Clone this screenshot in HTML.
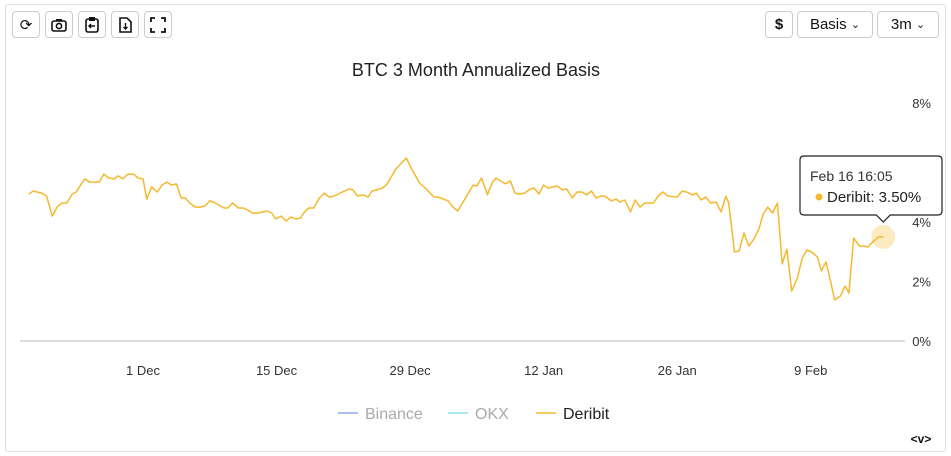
<!DOCTYPE html>
<html><head><meta charset="utf-8">
<style>
body{margin:0;width:951px;height:456px;background:#fff;font-family:"Liberation Sans",sans-serif;overflow:hidden}
.card{position:absolute;left:5px;top:4px;width:939px;height:446px;border:1px solid #ddd;border-radius:3px}
.btn{position:absolute;top:11px;height:27px;border:1px solid #ccc;border-radius:4px;background:#fff;box-sizing:border-box;display:flex;align-items:center;justify-content:center;font-size:15px;color:#111}
svg{position:absolute;left:0;top:0}
</style></head><body>
<div class="card"></div>
<div class="btn" style="left:12px;width:28px">⟳</div>
<div class="btn" style="left:45px;width:28px"><svg width="16" height="14" style="position:static"><rect x="1" y="3" width="14" height="10" rx="2" fill="none" stroke="#111" stroke-width="1.6"/><circle cx="8" cy="8" r="2.6" fill="none" stroke="#111" stroke-width="1.6"/><rect x="5" y="1" width="6" height="2" fill="#111"/></svg></div>
<div class="btn" style="left:78px;width:28px"><svg width="14" height="17" style="position:static"><rect x="1" y="3" width="12" height="13" rx="2" fill="none" stroke="#111" stroke-width="1.6"/><rect x="4" y="1" width="6" height="4" fill="#111"/><path d="M10 10H4M6 8L4 10L6 12" stroke="#111" fill="none" stroke-width="1.4"/></svg></div>
<div class="btn" style="left:111px;width:28px"><svg width="13" height="16" style="position:static"><path d="M1 1H8L12 5V15H1Z" fill="none" stroke="#111" stroke-width="1.6"/><path d="M6.5 6V12M4.5 10L6.5 12L8.5 10" stroke="#111" fill="none" stroke-width="1.4"/></svg></div>
<div class="btn" style="left:144px;width:28px"><svg width="16" height="16" style="position:static"><path d="M1 5V1H5M11 1H15V5M15 11V15H11M5 15H1V11" stroke="#111" fill="none" stroke-width="1.8"/></svg></div>
<div class="btn" style="left:765px;width:28px;font-weight:bold">$</div>
<div class="btn" style="left:797px;width:76px">Basis&nbsp;<span style="font-size:11px">⌄</span></div>
<div class="btn" style="left:877px;width:62px">3m&nbsp;<span style="font-size:11px">⌄</span></div>
<svg id="chart" width="951" height="456"></svg>
<script>
const days=[0,0.5,1.4,1.9,2.5,3,3.5,4,4.6,5,5.6,5.9,6.4,7.4,7.9,8.4,9,9.4,9.9,10.4,11,11.5,12,12.4,12.9,13.5,14,14.5,15,15.5,16,16.4,16.9,17.5,18,18.5,19,19.4,20.1,20.5,20.9,21.4,22,22.5,23,23.5,24,25,25.5,25.9,26.5,27,27.5,28,28.5,29,29.4,29.9,30.5,31,31.5,32,32.5,33.1,33.6,34,34.5,35.1,35.6,36,36.5,37.1,37.6,38.5,39.6,40.1,41,41.7,42.5,42.9,44,44.5,45,46,46.6,47,47.5,48.1,48.6,49,49.5,50,50.5,51,51.5,52,52.6,53,53.5,54,54.5,55,55.4,56,56.4,57,57.5,58,58.5,59,59.5,60,60.4,61.1,61.6,62,62.5,63.1,63.6,64.1,64.6,65.5,66,66.5,67,68,68.5,69,69.6,70,70.5,71,71.5,72.1,72.6,73.1,73.4,74,74.5,75,75.5,76.1,76.6,77,77.5,78,78.5,79,79.5,80,80.6,81.1,81.6,82.1,82.7,83.1,83.6,84.1,84.5,85.1,85.6,86,86.5,87.1,87.6,88,88.5,89.1,89.6];
const deribit=[4.94,5.04,4.97,4.87,4.20,4.50,4.64,4.64,4.94,5.01,5.31,5.45,5.34,5.34,5.61,5.48,5.45,5.55,5.45,5.61,5.61,5.48,5.45,4.77,5.18,5.01,5.24,5.34,5.24,5.28,4.81,4.81,4.64,4.50,4.50,4.54,4.71,4.67,4.54,4.47,4.47,4.64,4.47,4.47,4.40,4.30,4.30,4.37,4.30,4.10,4.20,4.03,4.17,4.10,4.13,4.37,4.47,4.47,4.81,4.97,4.84,4.87,4.94,5.04,5.11,5.08,4.87,4.91,4.84,5.04,5.08,5.14,5.28,5.78,6.15,5.82,5.31,5.11,4.84,4.84,4.71,4.50,4.37,4.91,5.24,5.21,5.48,4.91,5.31,5.48,5.38,5.28,5.38,4.97,4.94,4.97,5.11,5.14,4.94,5.24,5.14,5.18,5.21,5.08,5.11,4.81,5.01,5.01,4.91,5.04,4.81,4.87,4.87,4.71,4.77,4.67,4.74,4.34,4.74,4.50,4.64,4.64,4.87,5.01,4.87,4.84,5.04,5.01,4.91,4.97,4.74,4.84,4.64,4.67,4.34,4.87,4.64,2.99,3.03,3.63,3.19,3.46,3.80,4.27,4.50,4.30,4.64,2.59,3.09,1.68,2.12,2.79,3.06,2.99,2.82,2.35,2.66,1.98,1.38,1.51,1.85,1.61,3.46,3.19,3.19,3.16,3.33,3.50,3.50];
const xTickDays=[12,26,40,54,68,82];
const xTickLabels=["1 Dec","15 Dec","29 Dec","12 Jan","26 Jan","9 Feb"];
const yTicks=[0,2,4,8];
const legendNames=["Binance","OKX","Deribit"];
const legendColors=["#8fa8f0","#8ee0ea","#f5b82e"];

const NS="http://www.w3.org/2000/svg";
const svg=document.getElementById('chart');
const X=d=>28.5+d*9.54;
const Y=v=>341-v*29.75;
function mk(t,a,txt){const e=document.createElementNS(NS,t);for(const k in a)e.setAttribute(k,a[k]);if(txt!=null)e.textContent=txt;svg.appendChild(e);return e;}

let e=mk('text',{x:476,y:76,'text-anchor':'middle','font-size':18,fill:'#222'},'BTC 3 Month Annualized Basis');


e=mk('line',{x1:20,x2:905,y1:Y(0),y2:Y(0),stroke:'#bbb','stroke-width':1});


yTicks.forEach(v=>{
  const t=mk('text',{x:931,y:Y(v)+5,'text-anchor':'end','font-size':13,fill:'#333'},v+'%');
  
  
});
xTickDays.forEach((d,i)=>{
  const t=mk('text',{x:X(d),y:375,'text-anchor':'middle','font-size':13,fill:'#333'},xTickLabels[i]);
  
  
});
const pts=days.map((d,i)=>X(d).toFixed(1)+','+Y(deribit[i]).toFixed(1)).join(' ');
e=mk('polyline',{points:pts,fill:'none',stroke:'#f5b82e','stroke-width':1.5,'stroke-linejoin':'round'});


const li=days.length-1, hx=X(days[li]), hy=Y(deribit[li]);
e=mk('circle',{cx:hx,cy:hy,r:12,fill:'#f5b82e','fill-opacity':0.3});


// tooltip
const tx=800,ty=156;
e=mk('path',{d:`M${tx+4} ${ty}H${tx+138}Q${tx+142} ${ty} ${tx+142} ${ty+4}V${ty+55}Q${tx+142} ${ty+59} ${tx+138} ${ty+59}H${hx+7}L${hx} ${ty+66}L${hx-7} ${ty+59}H${tx+4}Q${tx} ${ty+59} ${tx} ${ty+55}V${ty+4}Q${tx} ${ty} ${tx+4} ${ty}Z`,fill:'#fff',stroke:'#222','stroke-width':1.2});


e=mk('text',{x:tx+10,y:ty+25,'font-size':14,fill:'#333'},'Feb 16 16:05');


e=mk('circle',{cx:tx+19,cy:ty+41,r:3.5,fill:'#f5b82e'});


e=mk('text',{x:tx+27,y:ty+46,'font-size':15,fill:'#222'},'Deribit: '+deribit[li].toFixed(2)+'%');


// legend
const lx=[338,448,536];
legendNames.forEach((n,i)=>{
  const l=mk('line',{x1:lx[i],x2:lx[i]+20,y1:413,y2:413,stroke:legendColors[i],'stroke-width':1.5});
  
  
  const t=mk('text',{x:lx[i]+27,y:419,'font-size':16,fill:i<2?'#aaa':'#222'},n);
  
  
});
e=mk('text',{x:921,y:443,'text-anchor':'middle','font-size':12,'font-weight':'bold',fill:'#111'},'<v>');


</script>
</body></html>
